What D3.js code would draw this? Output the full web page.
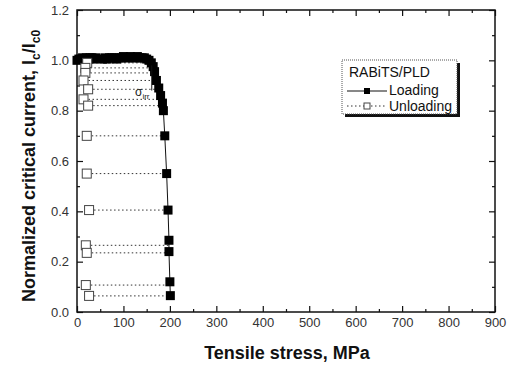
<!DOCTYPE html>
<html>
<head>
<meta charset="utf-8">
<script src="https://cdn.jsdelivr.net/npm/d3@7"></script>
<style>
  body { margin: 0; background: #fff; }
  svg text { font-family: "Liberation Sans", Arial, sans-serif; }
</style>
</head>
<body>
<svg id="chart" width="513" height="366"></svg>
<script>
// loading curve (filled squares)
const loadStress = [0, 4, 8, 12, 16, 20, 24, 28, 32, 36, 40,
  55, 60, 65, 70, 75, 80, 85, 90, 95, 100, 105, 110, 115, 120, 125, 130, 135, 140, 145, 150, 155,
  160, 164, 167, 171, 176, 180, 184, 186, 189, 193, 196, 198, 198, 200, 201]
const loadIc = [1.0, 1.005, 1.005, 1.01, 1.005, 1.01, 1.005, 1.01, 1.01, 1.005, 1.01,
  1.005, 1.01, 1.005, 1.01, 1.01, 1.01, 1.005, 1.01, 1.01, 1.015, 1.01, 1.01, 1.015, 1.01, 1.01, 1.015, 1.01, 1.01, 1.01, 1.005, 1.0,
  0.99, 0.975, 0.955, 0.92, 0.89, 0.86, 0.83, 0.80, 0.70, 0.55, 0.405, 0.285, 0.24, 0.12, 0.065]

// unloading points (open squares) and the stress each unloading started from
const unloadStress = [22, 18, 18, 14, 24, 14, 24, 21, 21, 26, 19, 21, 19, 26]
const unloadIc = [0.99, 0.97, 0.95, 0.92, 0.885, 0.845, 0.82, 0.70, 0.55, 0.405, 0.265, 0.235, 0.107, 0.064]
const unloadFrom = [162, 164, 167, 171, 176, 183, 186, 189, 193, 196, 198, 198, 200, 201]

const xTicks = [0, 100, 200, 300, 400, 500, 600, 700, 800, 900]
const xMinor = [50, 150, 250, 350, 450, 550, 650, 750, 850]
const yTicks = [0, 0.2, 0.4, 0.6, 0.8, 1.0, 1.2]
const yMinor = [0.1, 0.3, 0.5, 0.7, 0.9, 1.1]

const svg = d3.select('#chart')
const x = d3.scaleLinear().domain([0, 900]).range([77, 495])
const y = d3.scaleLinear().domain([0, 1.2]).range([312, 10])

// axes, ticks pointing inward
const axisStyle = g => {
  g.select('.domain').remove()
  g.selectAll('line').attr('stroke', '#111').attr('stroke-width', 1.2)
  g.selectAll('text').attr('font-size', 13).attr('fill', '#333')
}
svg.append('g').attr('transform', 'translate(0,312)')
  .call(d3.axisBottom(x).tickValues(xTicks).tickSize(-6).tickPadding(6).tickFormat(d3.format('d')))
  .call(axisStyle)
svg.append('g').attr('transform', 'translate(0,312)')
  .call(d3.axisBottom(x).tickValues(xMinor).tickSize(-3).tickFormat(''))
  .call(axisStyle)
svg.append('g').attr('transform', 'translate(0,10)')
  .call(d3.axisTop(x).tickValues(xTicks).tickSize(-6).tickFormat(''))
  .call(axisStyle)
svg.append('g').attr('transform', 'translate(0,10)')
  .call(d3.axisTop(x).tickValues(xMinor).tickSize(-3).tickFormat(''))
  .call(axisStyle)
svg.append('g').attr('transform', 'translate(77,0)')
  .call(d3.axisLeft(y).tickValues(yTicks).tickSize(-6).tickPadding(8).tickFormat(d3.format('.1f')))
  .call(axisStyle)
svg.append('g').attr('transform', 'translate(77,0)')
  .call(d3.axisLeft(y).tickValues(yMinor).tickSize(-3).tickFormat(''))
  .call(axisStyle)
svg.append('g').attr('transform', 'translate(495,0)')
  .call(d3.axisRight(y).tickValues(yTicks).tickSize(-6).tickFormat(''))
  .call(axisStyle)
svg.append('g').attr('transform', 'translate(495,0)')
  .call(d3.axisRight(y).tickValues(yMinor).tickSize(-3).tickFormat(''))
  .call(axisStyle)

svg.append('rect')
  .attr('x', 77).attr('y', 10).attr('width', 418).attr('height', 302)
  .attr('fill', 'none').attr('stroke', '#111').attr('stroke-width', 1.5)

// dotted unloading lines
svg.append('g').selectAll('line')
  .data(unloadIc)
  .join('line')
  .attr('x1', (d, i) => x(unloadStress[i]) + 5)
  .attr('x2', (d, i) => x(unloadFrom[i]))
  .attr('y1', d => y(d)).attr('y2', d => y(d))
  .attr('stroke', '#333').attr('stroke-width', 1)
  .attr('stroke-dasharray', '1.5,2.5')

// loading line + markers
const line = d3.line().x(d => x(d[0])).y(d => y(d[1]))
svg.append('path')
  .datum(loadStress.map((s, i) => [s, loadIc[i]]))
  .attr('d', line)
  .attr('fill', 'none').attr('stroke', '#111').attr('stroke-width', 1)

const sq = 9
svg.append('g').selectAll('rect')
  .data(loadStress)
  .join('rect')
  .attr('x', d => x(d) - sq / 2)
  .attr('y', (d, i) => y(loadIc[i]) - sq / 2)
  .attr('width', sq).attr('height', sq)
  .attr('fill', '#000')

svg.append('g').selectAll('rect')
  .data(unloadStress)
  .join('rect')
  .attr('x', d => x(d) - sq / 2)
  .attr('y', (d, i) => y(unloadIc[i]) - sq / 2)
  .attr('width', sq).attr('height', sq)
  .attr('fill', '#fff').attr('stroke', '#444').attr('stroke-width', 1)

// sigma_irr marker
svg.append('line')
  .attr('x1', x(161)).attr('x2', x(161))
  .attr('y1', y(0.98)).attr('y2', y(0.88))
  .attr('stroke', '#111').attr('stroke-width', 1)
const sig = svg.append('text')
  .attr('x', 135).attr('y', 96).attr('font-size', 12).attr('fill', '#222')
sig.append('tspan').text('σ')
sig.append('tspan').attr('font-size', 8).attr('dy', 3).text('irr')

// legend
const lg = svg.append('g')
lg.append('rect').attr('x', 345).attr('y', 63).attr('width', 115).attr('height', 54).attr('fill', '#111')
lg.append('rect').attr('x', 342).attr('y', 60).attr('width', 115).attr('height', 54)
  .attr('fill', '#fff').attr('stroke', '#555').attr('stroke-width', 1).attr('stroke-dasharray', '1,1')
lg.append('text').attr('x', 349).attr('y', 77).attr('font-size', 14).attr('fill', '#111').text('RABiTS/PLD')
lg.append('line').attr('x1', 347).attr('x2', 387).attr('y1', 91).attr('y2', 91)
  .attr('stroke', '#111').attr('stroke-width', 1)
lg.append('rect').attr('x', 364).attr('y', 88).attr('width', 6).attr('height', 6).attr('fill', '#000')
lg.append('text').attr('x', 389).attr('y', 95).attr('font-size', 14).attr('fill', '#111').text('Loading')
lg.append('line').attr('x1', 347).attr('x2', 387).attr('y1', 106).attr('y2', 106)
  .attr('stroke', '#333').attr('stroke-width', 1).attr('stroke-dasharray', '1.5,2.5')
lg.append('rect').attr('x', 364).attr('y', 103).attr('width', 6).attr('height', 6)
  .attr('fill', '#fff').attr('stroke', '#444')
lg.append('text').attr('x', 389).attr('y', 111).attr('font-size', 14).attr('fill', '#111').text('Unloading')

// axis titles
svg.append('text')
  .attr('x', 287).attr('y', 359).attr('text-anchor', 'middle')
  .attr('font-size', 18).attr('font-weight', 'bold').attr('fill', '#111')
  .text('Tensile stress, MPa')

const yl = svg.append('text')
  .attr('transform', 'translate(35,166) rotate(-90)')
  .attr('text-anchor', 'middle')
  .attr('font-size', 18).attr('font-weight', 'bold').attr('fill', '#111')
yl.append('tspan').text('Normalized critical current, I')
yl.append('tspan').attr('font-size', 12).attr('dy', 5).text('c')
yl.append('tspan').attr('dy', -5).text('/I')
yl.append('tspan').attr('font-size', 12).attr('dy', 5).text('c0')
</script>
</body>
</html>
